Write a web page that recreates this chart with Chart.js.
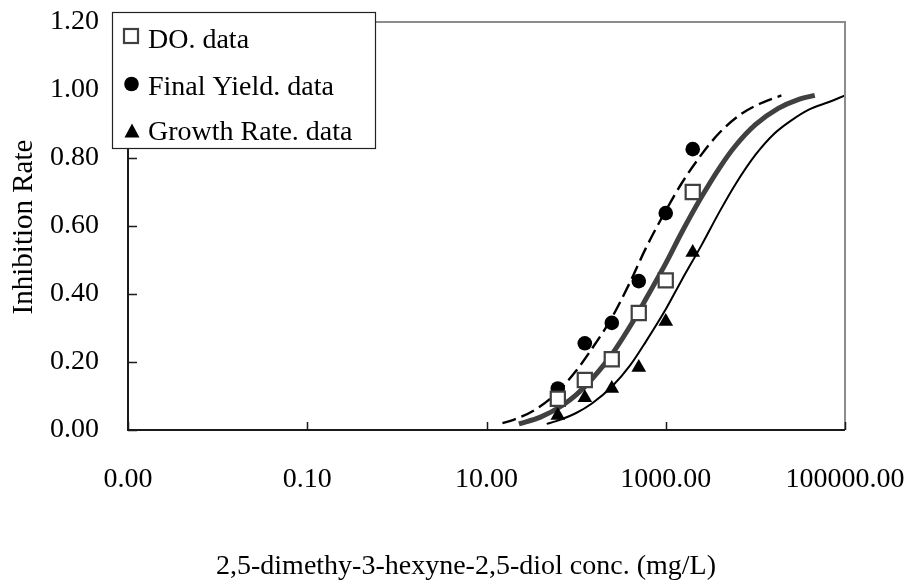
<!DOCTYPE html>
<html><head><meta charset="utf-8">
<script src="https://cdn.jsdelivr.net/npm/chart.js@4/dist/chart.umd.min.js"></script>
<style>html,body{margin:0;padding:0;background:#fff}#wrap{width:904px;height:586px}</style>
</head><body><div id="wrap"><canvas id="c" width="904" height="586"></canvas></div>
<script>
// measured data
const concentrations = [62.5, 125, 250, 500, 1000, 2000];
const doData = [0.092, 0.147, 0.208, 0.344, 0.44, 0.70];
const finalYieldData = [0.122, 0.255, 0.315, 0.438, 0.638, 0.826];
const growthRateData = [0.043, 0.095, 0.122, 0.184, 0.319, 0.522];

// fitted curves
const doCurveX = [23, 40, 70, 100, 150, 250, 400, 600, 1000, 1500, 2500, 4000, 6000, 10000, 18000, 30000, 46000];
const doCurveY = [0.018, 0.038, 0.072, 0.103, 0.150, 0.222, 0.305, 0.385, 0.49, 0.58, 0.685, 0.772, 0.836, 0.898, 0.946, 0.972, 0.984];
const fyCurveX = [14, 20, 35, 60, 100, 160, 250, 400, 600, 1000, 1500, 2500, 4000, 7000, 12000, 19500];
const fyCurveY = [0.018, 0.030, 0.060, 0.108, 0.174, 0.250, 0.330, 0.435, 0.535, 0.645, 0.725, 0.81, 0.875, 0.93, 0.963, 0.984];
const grCurveX = [47, 60, 100, 150, 250, 400, 600, 1000, 1500, 2500, 4000, 6000, 10000, 16000, 25000, 40000, 65000, 100000];
const grCurveY = [0.018, 0.026, 0.05, 0.078, 0.127, 0.19, 0.26, 0.355, 0.44, 0.543, 0.643, 0.723, 0.809, 0.87, 0.91, 0.943, 0.964, 0.984];

// ticks and labels
const xTickValues = [0.001, 0.1, 10, 1000, 100000];
const xTickLabels = ['0.00', '0.10', '10.00', '1000.00', '100000.00'];
const yTickValues = [0, 0.2, 0.4, 0.6, 0.8, 1.0, 1.2];
const yTickLabels = ['0.00', '0.20', '0.40', '0.60', '0.80', '1.00', '1.20'];

const seriesNames = ['DO. data', 'Final Yield. data', 'Growth Rate. data'];
const xTitle = '2,5-dimethy-3-hexyne-2,5-diol conc. (mg/L)';
const yTitle = 'Inhibition Rate';

const FONT = 'Liberation Serif, Times New Roman, serif';
const pts = (xs, ys) => xs.map((x, i) => ({x: x, y: ys[i]}));

const framePlugin = {
  id: 'frame',
  afterDraw(chart) {
    const ctx = chart.ctx, a = chart.chartArea;
    const xs = chart.scales.x, ys = chart.scales.y;
    ctx.save();
    // top & right border (grey)
    ctx.strokeStyle = '#8c8c8c'; ctx.lineWidth = 2;
    ctx.beginPath();
    ctx.moveTo(a.left, a.top); ctx.lineTo(a.right, a.top); ctx.lineTo(a.right, a.bottom);
    ctx.stroke();
    // left & bottom axis
    ctx.strokeStyle = '#1a1a1a'; ctx.lineWidth = 2;
    ctx.beginPath();
    ctx.moveTo(a.left, a.top); ctx.lineTo(a.left, a.bottom); ctx.lineTo(a.right, a.bottom);
    ctx.stroke();
    // inward ticks
    ctx.lineWidth = 1.5;
    ctx.beginPath();
    xs.ticks.forEach(t => {
      const px = Math.round(xs.getPixelForValue(t.value)) + 0.5;
      ctx.moveTo(px, a.bottom); ctx.lineTo(px, a.bottom - 8);
    });
    ys.ticks.forEach(t => {
      const py = Math.round(ys.getPixelForValue(t.value)) + 0.5;
      ctx.moveTo(a.left, py); ctx.lineTo(a.left + 9, py);
    });
    ctx.stroke();

    // legend box
    ctx.fillStyle = '#fff';
    ctx.fillRect(112, 12, 263, 136);
    ctx.strokeStyle = '#222'; ctx.lineWidth = 1.2;
    ctx.strokeRect(112.5, 12.5, 263, 136);
    // markers
    ctx.fillStyle = '#fff'; ctx.strokeStyle = '#404040'; ctx.lineWidth = 2.2;
    ctx.fillRect(124, 29, 14, 14); ctx.strokeRect(124, 29, 14, 14);
    ctx.fillStyle = '#000';
    ctx.beginPath(); ctx.arc(131.5, 84, 7.3, 0, Math.PI * 2); ctx.fill();
    ctx.beginPath(); ctx.moveTo(132, 123.5); ctx.lineTo(139.5, 137.5); ctx.lineTo(124.5, 137.5); ctx.closePath(); ctx.fill();
    // legend text
    ctx.fillStyle = '#000';
    ctx.font = '28px ' + FONT;
    ctx.textAlign = 'left'; ctx.textBaseline = 'alphabetic';
    ctx.fillText(seriesNames[0], 148, 48);
    ctx.fillText(seriesNames[1], 148, 95);
    ctx.fillText(seriesNames[2], 148, 140);

    // axis titles
    ctx.textAlign = 'center'; ctx.textBaseline = 'middle';
    ctx.fillText(xTitle, 466, 567);
    ctx.font = '29px ' + FONT;
    ctx.translate(24, 227); ctx.rotate(-Math.PI / 2);
    ctx.fillText(yTitle, 0, 0);
    ctx.restore();
  }
};

new Chart(document.getElementById('c'), {
  type: 'scatter',
  data: {
    datasets: [
      {label: seriesNames[0], data: pts(concentrations, doData), order: 0, showLine: false,
       pointStyle: 'rect', pointRadius: 10, backgroundColor: '#fff', borderColor: '#404040', borderWidth: 2.2},
      {label: seriesNames[1], data: pts(concentrations, finalYieldData), order: 1, showLine: false,
       pointStyle: 'circle', pointRadius: 7.3, backgroundColor: '#000', borderColor: '#000', borderWidth: 0},
      {label: seriesNames[2], data: pts(concentrations, growthRateData), order: 2, showLine: false,
       pointStyle: 'triangle', pointRadius: 8.5, backgroundColor: '#000', borderColor: '#000', borderWidth: 0},
      {label: 'DO fit', data: pts(doCurveX, doCurveY), order: 3, showLine: true, pointRadius: 0,
       borderColor: '#404040', borderWidth: 5, cubicInterpolationMode: 'monotone', borderCapStyle: 'butt'},
      {label: 'Final Yield fit', data: pts(fyCurveX, fyCurveY), order: 4, showLine: true, pointRadius: 0,
       borderColor: '#000', borderWidth: 2.4, borderDash: [14, 6], borderDashOffset: 17, cubicInterpolationMode: 'monotone'},
      {label: 'Growth Rate fit', data: pts(grCurveX, grCurveY), order: 5, showLine: true, pointRadius: 0,
       borderColor: '#000', borderWidth: 2, cubicInterpolationMode: 'monotone'}
    ]
  },
  options: {
    responsive: false, animation: false, devicePixelRatio: 1,
    layout: {padding: {top: 22, right: 59, left: 0, bottom: 0}},
    plugins: {legend: {display: false}, tooltip: {enabled: false}},
    scales: {
      x: {
        type: 'logarithmic', min: 0.001, max: 100000,
        afterBuildTicks: s => { s.ticks = xTickValues.map(v => ({value: v})); },
        afterFit: s => { s.height = 156; s.paddingLeft = 0; s.paddingRight = 0; },
        grid: {display: false}, border: {display: false},
        ticks: {callback: (v, i) => xTickLabels[i], autoSkip: false, maxRotation: 0,
                font: {family: FONT, size: 28}, color: '#000', padding: 25}
      },
      y: {
        min: 0, max: 1.2,
        afterBuildTicks: s => { s.ticks = yTickValues.map(v => ({value: v})); },
        afterFit: s => { s.width = 128; s.paddingTop = 0; s.paddingBottom = 0; },
        grid: {display: false}, border: {display: false},
        ticks: {callback: (v, i) => yTickLabels[i], font: {family: FONT, size: 28}, color: '#000', padding: 21}
      }
    }
  },
  plugins: [framePlugin]
});
</script></body></html>
